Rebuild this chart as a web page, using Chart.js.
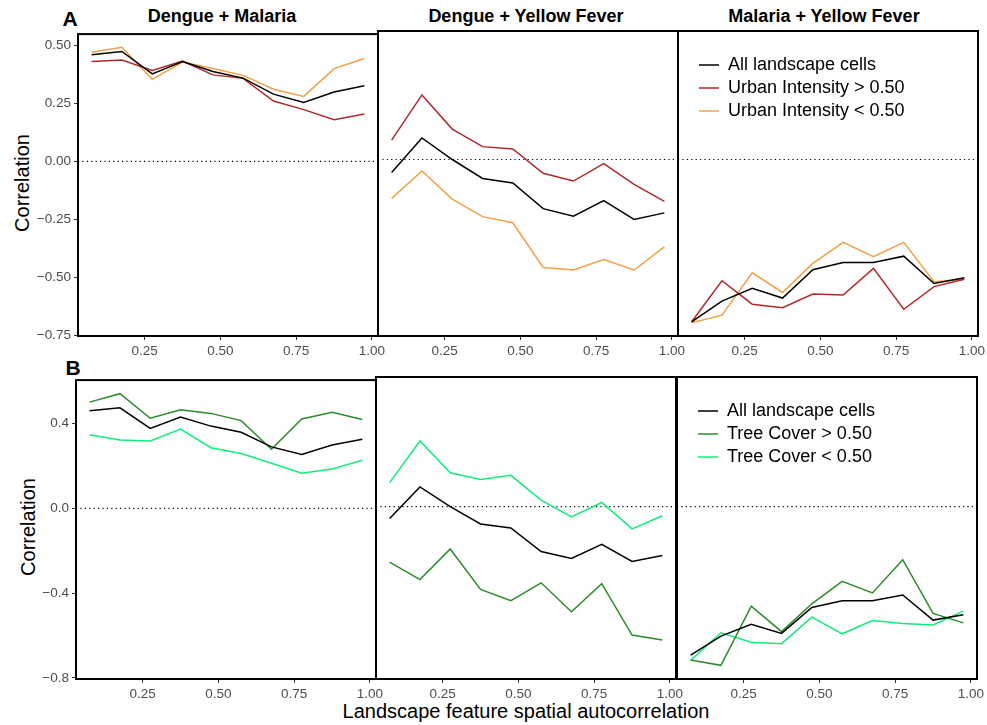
<!DOCTYPE html>
<html>
<head>
<meta charset="utf-8">
<script src="https://cdn.jsdelivr.net/npm/chart.js@4.4.0/dist/chart.umd.min.js"></script>
<style>
    body { margin: 0; width: 987px; height: 725px; position: relative; overflow: hidden; background: #fff; font-family: 'Liberation Sans', Arial, sans-serif; }
    canvas { position: absolute; }
    .txt { position: absolute; white-space: nowrap; line-height: 1; transform: translate(-50%, -50%); color: #000; }
    .bold { font-weight: bold; }
    .rot { transform: translate(-50%, -50%) rotate(-90deg); }
</style>
</head>
<body>
<div class="txt bold" style="left:70px; top:18px; font-size:21px;">A</div>
<div class="txt bold" style="left:73px; top:367px; font-size:21px;">B</div>
<div class="txt bold" style="left:222px; top:16px; font-size:18px;">Dengue + Malaria</div>
<div class="txt bold" style="left:526px; top:16px; font-size:18px;">Dengue + Yellow Fever</div>
<div class="txt bold" style="left:824px; top:16px; font-size:18px;">Malaria + Yellow Fever</div>
<div class="txt rot" style="left:22px; top:183px; font-size:20px;">Correlation</div>
<div class="txt rot" style="left:28px; top:527px; font-size:20px;">Correlation</div>
<div class="txt" style="left:526px; top:711px; font-size:20px;">Landscape feature spatial autocorrelation</div>

<script>
// x positions of the ten autocorrelation bins
const X_VALUES = [0.075, 0.175, 0.275, 0.375, 0.475, 0.575, 0.675, 0.775, 0.875, 0.975];
const X_TICKS = [0.25, 0.50, 0.75, 1.00];
const Y_TICKS_A = [-0.75, -0.50, -0.25, 0.00, 0.25, 0.50];
const Y_TICKS_B = [-0.8, -0.4, 0.0, 0.4];

// all landscape cells (same in both rows)
const DM_ALL = [0.460, 0.474, 0.377, 0.431, 0.388, 0.359, 0.290, 0.254, 0.299, 0.326];
const DY_ALL = [-0.056, 0.092, 0.000, -0.081, -0.100, -0.210, -0.242, -0.176, -0.256, -0.228];
const MY_ALL = [-0.694, -0.605, -0.550, -0.592, -0.471, -0.440, -0.440, -0.413, -0.530, -0.505];

// urban intensity split
const DM_URBAN_HI = [0.431, 0.437, 0.392, 0.433, 0.373, 0.358, 0.260, 0.223, 0.179, 0.204];
const DY_URBAN_HI = [0.083, 0.276, 0.130, 0.055, 0.045, -0.059, -0.092, -0.018, -0.106, -0.179];
const MY_URBAN_HI = [-0.693, -0.518, -0.618, -0.633, -0.575, -0.579, -0.465, -0.640, -0.543, -0.512];
const DM_URBAN_LO = [0.471, 0.492, 0.354, 0.428, 0.401, 0.371, 0.311, 0.280, 0.400, 0.444];
const DY_URBAN_LO = [-0.166, -0.049, -0.169, -0.244, -0.270, -0.461, -0.472, -0.427, -0.472, -0.373];
const MY_URBAN_LO = [-0.697, -0.665, -0.484, -0.568, -0.444, -0.354, -0.415, -0.354, -0.522, -0.512];

// tree cover split
const DM_TREE_HI = [0.501, 0.541, 0.425, 0.465, 0.448, 0.414, 0.279, 0.422, 0.453, 0.419];
const DY_TREE_HI = [-0.259, -0.341, -0.198, -0.387, -0.439, -0.356, -0.491, -0.360, -0.600, -0.623];
const MY_TREE_HI = [-0.716, -0.741, -0.465, -0.584, -0.454, -0.349, -0.403, -0.248, -0.499, -0.543];
const DM_TREE_LO = [0.347, 0.323, 0.318, 0.374, 0.286, 0.259, 0.213, 0.166, 0.186, 0.227];
const DY_TREE_LO = [0.112, 0.306, 0.158, 0.127, 0.146, 0.030, -0.048, 0.019, -0.104, -0.043];
const MY_TREE_LO = [-0.718, -0.589, -0.633, -0.640, -0.516, -0.594, -0.532, -0.546, -0.553, -0.488];

const URBAN_LABELS = ['All landscape cells', 'Urban Intensity > 0.50', 'Urban Intensity < 0.50'];
const TREE_LABELS = ['All landscape cells', 'Tree Cover > 0.50', 'Tree Cover < 0.50'];
const URBAN_COLORS = ['#000000', '#B2272C', '#F2A047'];
const TREE_COLORS = ['#000000', '#2A8C2A', '#14EC7A'];

// layout
const FONT = "'Liberation Sans', Arial, sans-serif";
const PANEL_W = 300;
const PAD_T = 8;
const PAD_R = 14;
const X_AXIS_H = 30;
const X_RANGE = [0.03, 1.02];

const panelGuides = {
    id: 'panelGuides',
    beforeDatasetsDraw(chart) {
        const { ctx, chartArea: a, scales } = chart;
        const py = scales.y.getPixelForValue(0);
        ctx.save();
        ctx.setLineDash([1.2, 3.2]);
        ctx.lineWidth = 1.2;
        ctx.strokeStyle = '#000';
        ctx.beginPath();
        ctx.moveTo(a.left, py);
        ctx.lineTo(a.right, py);
        ctx.stroke();
        ctx.restore();
    },
    afterDatasetsDraw(chart) {
        const { ctx, chartArea: a } = chart;
        ctx.save();
        ctx.lineWidth = 2;
        ctx.strokeStyle = '#000';
        ctx.strokeRect(a.left, a.top, a.right - a.left, a.bottom - a.top);
        ctx.restore();
    },
    // put the legend at a fixed offset inside the panel
    afterLayout(chart, args, opts) {
        const lg = chart.legend;
        if (!lg || !lg.options.display || opts.dx === undefined) return;
        lg.left = chart.chartArea.left + opts.dx;
        lg.top = chart.chartArea.top + opts.dy;
        lg.right = lg.left + 280;
        lg.bottom = lg.top + 120;
    }
};

function fmtTick(v, d) {
    return v.toFixed(d).replace('-', '\u2212');
}

function makePanel(p) {
    const padL = p.showY ? p.left : 4;
    const canvas = document.createElement('canvas');
    canvas.width = padL + PANEL_W + PAD_R;
    canvas.height = PAD_T + p.height + X_AXIS_H;
    canvas.style.left = (p.left - padL) + 'px';
    canvas.style.top = (p.top - PAD_T) + 'px';
    document.body.appendChild(canvas);

    const tickFont = { family: FONT, size: 13.5 };

    new Chart(canvas, {
        type: 'line',
        data: {
            datasets: p.series.map((vals, i) => ({
                label: p.labels[i],
                data: X_VALUES.map((x, j) => ({ x, y: vals[j] })),
                borderColor: p.colors[i],
                backgroundColor: p.colors[i],
                borderWidth: 1.5,
                pointRadius: 0,
                tension: 0,
                fill: false
            }))
        },
        options: {
            responsive: false,
            animation: false,
            layout: { padding: { left: p.showY ? 0 : 4, right: PAD_R, top: PAD_T, bottom: 0 } },
            plugins: {
                tooltip: { enabled: false },
                legend: p.legend ? {
                    display: true,
                    position: 'chartArea',
                    align: 'start',
                    labels: {
                        usePointStyle: true,
                        pointStyle: 'line',
                        pointStyleWidth: 20,
                        boxHeight: 18,
                        padding: 5,
                        color: '#000',
                        font: { family: FONT, size: 18 }
                    }
                } : { display: false },
                panelGuides: p.legend ? { dx: 16, dy: 20 } : {}
            },
            scales: {
                x: {
                    type: 'linear',
                    min: X_RANGE[0],
                    max: X_RANGE[1],
                    afterBuildTicks: s => { s.ticks = X_TICKS.map(v => ({ value: v })); },
                    afterFit: s => { s.height = X_AXIS_H; },
                    ticks: { callback: v => fmtTick(v, 2), color: '#4D4D4D', font: tickFont, padding: 3, maxRotation: 0, autoSkip: false },
                    grid: { drawOnChartArea: false, tickLength: 4, color: '#333333' },
                    border: { display: false }
                },
                y: {
                    type: 'linear',
                    display: p.showY,
                    min: p.yRange[0],
                    max: p.yRange[1],
                    afterBuildTicks: s => { s.ticks = p.yTicks.map(v => ({ value: v })); },
                    afterFit: s => { s.width = p.showY ? padL : 0; },
                    ticks: { callback: v => fmtTick(v, p.yDecimals), color: '#4D4D4D', font: tickFont, padding: 3, autoSkip: false },
                    grid: { drawOnChartArea: false, tickLength: 4, color: '#333333' },
                    border: { display: false }
                }
            }
        },
        plugins: [panelGuides]
    });
}

const rowA = { top: 31, height: 305, lefts: [78, 378, 678], yRange: [-0.754, 0.549], yTicks: Y_TICKS_A, yDecimals: 2,
    labels: URBAN_LABELS, colors: URBAN_COLORS,
    series: [[DM_ALL, DM_URBAN_HI, DM_URBAN_LO], [DY_ALL, DY_URBAN_HI, DY_URBAN_LO], [MY_ALL, MY_URBAN_HI, MY_URBAN_LO]] };
const rowB = { top: 377, height: 302, lefts: [76, 376, 677], yRange: [-0.805, 0.605], yTicks: Y_TICKS_B, yDecimals: 1,
    labels: TREE_LABELS, colors: TREE_COLORS,
    series: [[DM_ALL, DM_TREE_HI, DM_TREE_LO], [DY_ALL, DY_TREE_HI, DY_TREE_LO], [MY_ALL, MY_TREE_HI, MY_TREE_LO]] };

[rowA, rowB].forEach(row => {
    row.lefts.forEach((left, k) => {
        makePanel({
            left, top: row.top, height: row.height,
            showY: k === 0, legend: k === 2,
            yRange: row.yRange, yTicks: row.yTicks, yDecimals: row.yDecimals,
            labels: row.labels, colors: row.colors, series: row.series[k]
        });
    });
});
</script>
</body>
</html>
